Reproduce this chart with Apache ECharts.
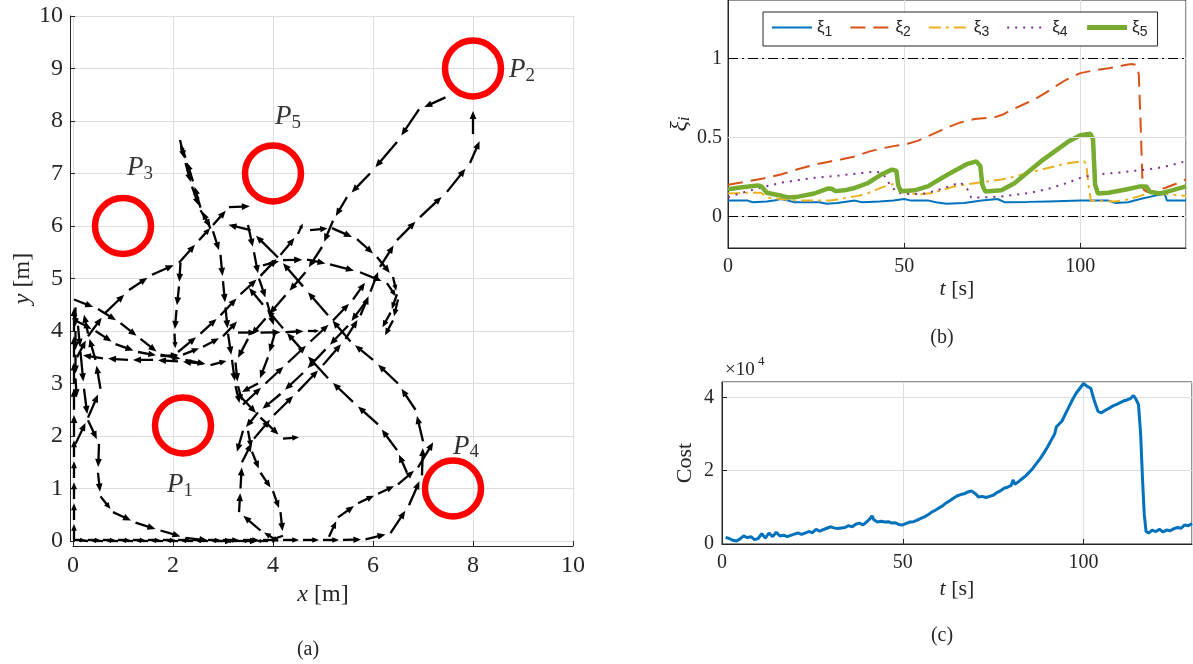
<!DOCTYPE html>
<html>
<head>
<meta charset="utf-8">
<script src="https://cdn.jsdelivr.net/npm/echarts@6/dist/echarts.min.js"></script>
<style>
  html, body { margin: 0; padding: 0; background: #fff; }
  #main { width: 1193px; height: 664px; }
</style>
</head>
<body>
<div id="main"></div>
<script>
// ---- panel (a): robot tracks, waypoints in metres ----
const trackBottomOut = [[0,0.02],[0.3,0.02],[0.6,0.02],[0.9,0.02],[1.2,0.02],[1.5,0.02],[1.8,0.02],[2.1,0.02],[2.4,0.02],[2.7,0.02],[3.0,0.02],[3.4,0.02],[3.8,0.02],[4.2,0.02],[4.6,0.02],[5.0,0.02],[5.4,0.02],[5.85,0.03],[6.35,0.15],[6.72,0.68],[6.98,1.25],[7.0,1.9],[6.85,2.5],[6.5,3.0],[6.0,3.45],[5.55,3.8],[5.1,4.3],[4.6,4.85],[4.1,5.4],[3.55,5.92],[3.0,6.05]];
const trackBottomBack = [[3.5,2.1],[3.58,1.7],[3.75,1.3],[4.0,0.95],[4.15,0.55],[4.2,0.1],[3.9,0.0],[3.6,0.0],[3.3,0.0],[3.0,0.0],[2.7,0.0],[2.4,0.0],[2.1,0.0],[1.8,0.0],[1.5,0.0],[1.2,0.0],[0.9,0.0],[0.6,0.0],[0.3,0.0],[0.02,0.02],[0.02,0.4],[0.02,0.8],[0.02,1.2],[0.02,1.6],[0.02,2.0],[0.02,2.5],[0.02,3.0],[0.02,3.5],[0.02,4.0],[0.02,4.55]];
const trackWallDown = [[0.05,4.45],[0.05,4.0],[0.05,3.55],[0.05,3.1],[0.08,2.65]];
const trackCrossUp = [[0.05,1.85],[0.3,2.35],[0.55,2.9],[0.45,3.45],[0.3,3.95],[0.2,4.4]];
const trackCurveDown = [[0.1,4.1],[0.15,3.6],[0.22,2.9],[0.3,2.3],[0.52,1.85],[0.5,1.3],[0.55,0.85],[0.8,0.55],[1.25,0.35],[1.75,0.2],[2.25,0.06],[2.8,0.0],[3.3,0.0],[3.8,0.0]];
const trackHammock1 = [[0.02,4.6],[0.5,4.42],[0.95,4.15],[1.35,3.85],[1.75,3.55],[2.25,3.45],[2.75,3.35],[3.15,3.45]];
const trackHammock2 = [[0.05,4.2],[0.45,4.0],[0.85,3.75],[1.3,3.6],[1.75,3.52],[2.2,3.55],[2.6,3.7],[3.0,3.9],[3.35,4.25]];
const trackHammock3 = [[2.6,3.38],[2.1,3.42],[1.6,3.45],[1.1,3.45],[0.6,3.48],[0.1,3.55]];
const trackToP3 = [[0.08,3.5],[0.3,3.9],[0.64,4.34],[1.12,4.78],[1.58,5.07],[2.12,5.3],[2.52,5.73],[2.8,6.02],[3.12,6.36],[3.64,6.38]];
const trackTopDown = [[2.14,7.64],[2.25,7.2],[2.38,6.75],[2.55,6.3],[2.8,5.9],[2.95,5.45],[3.0,4.95],[3.05,4.45],[3.1,3.95],[3.18,3.45],[3.25,2.95],[3.35,2.55]];
const trackTopUp = [[2.75,5.95],[2.55,6.35],[2.4,6.85],[2.25,7.3],[2.12,7.62]];
const trackMidDown = [[2.15,5.3],[2.12,4.85],[2.07,4.4],[2.03,3.95],[2.05,3.6]];
const trackMidUp = [[2.1,3.6],[2.55,3.95],[2.95,4.3],[3.35,4.7],[3.75,5.05],[4.15,5.45],[4.5,5.85],[4.62,6.1]];
const trackArcHigh = [[4.74,5.92],[5.18,5.96],[5.68,5.75],[6.08,5.41],[6.4,5.03],[6.48,4.7],[6.35,4.35],[6.15,4.0]];
const trackArcLow = [[3.8,5.25],[4.2,5.35],[4.68,5.36],[5.14,5.27],[5.74,5.12],[6.28,4.91],[6.5,4.6],[6.4,4.2],[6.2,3.85]];
const trackToP2 = [[4.1,0.0],[3.75,0.2],[3.32,0.55],[3.35,1.0],[3.38,1.5],[3.62,1.95],[4.02,2.4],[4.5,2.85],[5.0,3.35],[5.45,3.85],[5.75,4.3],[5.95,4.75],[6.14,5.22],[6.48,5.73],[6.94,6.17],[7.48,6.65],[7.94,7.2],[8.18,7.72]];
const trackP2Enter = [[8.0,7.75],[8.0,8.3]];
const trackFromP2 = [[7.45,8.45],[6.92,8.22],[6.48,7.6],[5.94,7.0],[5.48,6.55],[5.2,6.1],[4.98,5.6],[4.65,5.12],[4.25,4.68],[3.85,4.24],[3.5,3.85],[3.25,3.4],[3.3,2.95],[3.4,2.6]];
const trackDiagUp = [[6.68,1.3],[6.48,1.73],[6.1,2.22],[5.6,2.65],[5.1,3.1],[4.6,3.62],[4.2,4.05],[3.8,4.5],[3.45,4.9]];
const trackLineY4 = [[3.3,3.97],[3.75,3.97],[4.25,3.98],[4.7,4.0],[4.98,4.0]];
const trackHook = [[3.5,6.02],[3.62,5.5],[3.72,5.0],[3.88,4.55],[4.05,4.0],[3.9,3.5],[3.7,3.0],[3.3,2.8],[3.75,2.35],[4.2,1.95],[4.6,1.98]];
const trackToP4 = [[5.12,0.08],[5.3,0.45],[5.7,0.72],[6.1,0.9],[6.5,1.08],[6.9,1.4],[7.28,2.0]];
const trackParallel1 = [[5.85,4.55],[5.5,4.1],[5.05,3.65],[4.6,3.2],[4.15,2.8],[3.7,2.45],[3.4,2.1],[3.25,1.6]];
const trackParallel2 = [[3.4,2.6],[3.85,3.0],[4.3,3.4],[4.75,3.8],[5.2,4.2],[5.6,4.6],[5.9,5.0]];

const tracks = [trackBottomOut, trackBottomBack, trackWallDown, trackCrossUp, trackCurveDown,
  trackHammock1, trackHammock2, trackHammock3, trackToP3, trackTopDown, trackTopUp, trackMidDown,
  trackMidUp, trackArcHigh, trackArcLow, trackToP2, trackP2Enter, trackFromP2, trackDiagUp,
  trackLineY4, trackHook, trackToP4, trackParallel1, trackParallel2];

const siteNums = ['1', '2', '3', '4', '5'];
const siteCenters = [[2.2,2.2],[8.0,9.0],[1.0,6.0],[7.6,1.0],[4.0,7.0]];
const siteLabelPos = [[2.14,1.07],[8.98,8.97],[1.34,7.1],[7.86,1.8],[4.3,8.08]];

// ---- panel (b): xi_i over time [t (s), value] ----
const xi1 = [[0,0.1],[2,0.1],[5.6,0.1],[7,0.09],[11,0.095],[13,0.1],[15,0.11],[17,0.1],[19,0.09],[26,0.09],[28,0.08],[31,0.085],[34,0.095],[36,0.1],[38,0.09],[43,0.095],[47,0.1],[50,0.11],[52,0.1],[57,0.1],[59,0.09],[62,0.08],[67,0.085],[72,0.1],[76.5,0.11],[78.5,0.09],[85,0.092],[91,0.095],[100,0.1],[105,0.1],[108,0.1],[110,0.085],[113.5,0.09],[117,0.11],[121,0.13],[123,0.14],[124,0.14],[124.6,0.1],[130,0.1]];
const xi2 = [[0,0.2],[5,0.22],[10,0.24],[15,0.265],[20,0.3],[25,0.33],[29,0.348],[32,0.36],[36,0.38],[40,0.41],[43.5,0.43],[47,0.445],[51,0.46],[54,0.48],[57,0.51],[60,0.54],[62.5,0.565],[66,0.595],[70,0.617],[75.6,0.627],[78,0.645],[81,0.68],[84,0.71],[87,0.74],[90,0.78],[93,0.824],[96,0.865],[100,0.907],[104,0.925],[108,0.938],[112,0.955],[114.5,0.965],[115.9,0.96],[116.6,0.9],[117.1,0.6],[117.6,0.25],[118,0.17],[119,0.155],[121,0.16],[124,0.18],[127,0.205],[130,0.235]];
const xi3 = [[0,0.145],[5,0.15],[9.4,0.15],[11,0.12],[15,0.11],[20,0.1],[25,0.1],[29,0.1],[32,0.11],[34,0.12],[37,0.13],[39.6,0.146],[43.5,0.182],[46,0.2],[47.2,0.207],[48.5,0.19],[49.5,0.17],[51,0.146],[54.8,0.14],[58,0.148],[60.5,0.165],[64.3,0.19],[70,0.21],[77.6,0.234],[81,0.25],[85,0.275],[90.8,0.306],[96.5,0.337],[101,0.35],[101.7,0.33],[102.3,0.2],[103,0.1],[106,0.097],[109.8,0.095],[113,0.105],[117,0.13],[121,0.16],[124.8,0.14],[127,0.135],[130,0.13]];
const xi4 = [[0,0.12],[4,0.15],[9,0.18],[15,0.213],[20,0.23],[24.5,0.244],[30,0.255],[34,0.265],[38,0.275],[42,0.285],[44,0.27],[46,0.2],[48,0.15],[52,0.14],[56,0.145],[60,0.17],[64,0.2],[66,0.215],[68,0.17],[69,0.12],[72,0.12],[77,0.125],[81,0.135],[86,0.15],[91,0.175],[96,0.21],[100,0.244],[104,0.265],[110,0.275],[116,0.29],[122,0.306],[126,0.325],[130,0.35]];
const xi5 = [[0,0.172],[4,0.185],[8.5,0.196],[9.5,0.19],[11,0.15],[13,0.14],[15,0.132],[17,0.12],[20,0.125],[24.5,0.145],[28.3,0.176],[29.5,0.175],[30.5,0.16],[33,0.165],[36,0.18],[39.6,0.21],[43.5,0.265],[46.5,0.296],[47.8,0.29],[48.3,0.2],[49,0.16],[53,0.165],[56.7,0.19],[62.4,0.265],[68,0.333],[70.5,0.348],[71.6,0.32],[72.2,0.2],[73,0.158],[77.6,0.165],[81.3,0.21],[88.8,0.348],[96.5,0.472],[100,0.514],[102.8,0.524],[103.6,0.49],[104.2,0.2],[105,0.145],[108,0.15],[113,0.17],[117,0.19],[118.7,0.19],[119.8,0.155],[122.7,0.145],[126,0.165],[130,0.19]];
const xiNames = ['ξ1', 'ξ2', 'ξ3', 'ξ4', 'ξ5'];
const refLevels = [0, 1];
const xiGridLevels = [0.5];

// ---- panel (c): cost over time [t (s), cost / 1e4] ----
const costE4 = [[1,0.18],[2,0.15],[3,0.1],[4,0.08],[5,0.14],[6,0.22],[7,0.17],[8,0.2],[9,0.12],[10,0.15],[11,0.28],[12,0.16],[13,0.3],[14,0.2],[15,0.32],[16,0.22],[17,0.24],[18,0.2],[20,0.27],[21,0.3],[22,0.26],[24,0.34],[25,0.31],[26,0.4],[27,0.35],[29,0.43],[30,0.47],[31,0.44],[32,0.42],[34,0.45],[35,0.5],[36,0.47],[37,0.54],[38,0.57],[39,0.52],[40,0.6],[41,0.7],[41.5,0.77],[42,0.66],[43,0.6],[44,0.62],[45,0.6],[46,0.61],[47,0.57],[48,0.58],[49,0.53],[50,0.52],[51,0.56],[52,0.6],[53,0.61],[54,0.65],[55,0.7],[56,0.74],[57,0.8],[58,0.87],[59,0.92],[60,0.98],[61,1.04],[62,1.12],[63,1.18],[64,1.25],[65,1.31],[66,1.35],[67,1.37],[68,1.42],[69,1.45],[70,1.38],[71,1.28],[72,1.3],[73,1.27],[74,1.3],[75,1.33],[76,1.4],[77,1.45],[78,1.52],[79,1.55],[80,1.6],[80.5,1.75],[81,1.63],[82,1.7],[83,1.78],[84,1.86],[85,1.96],[86,2.07],[87,2.2],[88,2.33],[89,2.48],[90,2.64],[91,2.82],[92,3.0],[92.5,3.2],[93,3.15],[94,3.35],[95,3.55],[96,3.75],[97,3.95],[98,4.12],[99,4.25],[100,4.38],[101,4.3],[102,4.25],[103,3.9],[104,3.62],[105,3.58],[106,3.65],[107,3.7],[108,3.76],[109,3.8],[110,3.85],[111,3.9],[112,3.93],[113,3.97],[113.8,4.05],[114.5,3.95],[115.2,3.8],[115.8,3.0],[116.3,1.8],[116.8,0.8],[117.3,0.34],[118,0.3],[119,0.38],[120,0.34],[121,0.4],[122,0.33],[123,0.38],[124,0.36],[125,0.42],[126,0.45],[127,0.43],[128,0.52],[129,0.5],[130,0.56]];

// build quiver segments: each waypoint points at the next one
const segments = [];
tracks.forEach(tr => {
  for (let i = 0; i < tr.length - 1; i++) {
    segments.push([tr[i][0], tr[i][1], tr[i + 1][0], tr[i + 1][1]]);
  }
});

const SERIF = 'Liberation Serif';
const INK = '#262626';
const GRIDC = '#dedede';

function renderArrow(params, api) {
  const a = api.coord([api.value(0), api.value(1)]);
  const b = api.coord([api.value(2), api.value(3)]);
  const dx = b[0] - a[0], dy = b[1] - a[1];
  const L = Math.sqrt(dx * dx + dy * dy);
  if (L < 0.5) return;
  const ux = dx / L, uy = dy / L;
  const len = L * 0.8;
  const tip = [a[0] + ux * len, a[1] + uy * len];
  const h = Math.min(8, len * 0.42);
  const w = h * 0.42;
  const base = [tip[0] - ux * h, tip[1] - uy * h];
  return {
    type: 'group',
    children: [
      { type: 'line', shape: { x1: a[0], y1: a[1], x2: base[0] + ux, y2: base[1] + uy },
        style: { stroke: '#000', lineWidth: 2.3 } },
      { type: 'polygon', shape: { points: [tip, [base[0] - uy * w, base[1] + ux * w], [base[0] + uy * w, base[1] - ux * w]] },
        style: { fill: '#000' } }
    ]
  };
}

const tickLabel = (size) => ({ color: INK, fontFamily: SERIF, fontSize: size });
const nameStyle = (size) => ({
  color: INK, fontFamily: SERIF, fontSize: size,
  rich: {
    i: { fontStyle: 'italic', fontFamily: SERIF, fontSize: size, color: INK },
    s: { fontStyle: 'italic', fontFamily: SERIF, fontSize: size * 0.7, color: INK, verticalAlign: 'bottom', padding: [10, 0, 0, 0] }
  }
});
const axisLineStyle = { onZero: false, lineStyle: { color: INK } };

const chart = echarts.init(document.getElementById('main'));
chart.setOption({
  animation: false,
  backgroundColor: '#fff',
  grid: [
    { left: 73, top: 16, width: 500, height: 525 },
    { left: 728, top: -3, width: 458, height: 251, show: true, borderColor: INK, borderWidth: 1 },
    { left: 722, top: 382, width: 470, height: 162, show: true, borderColor: INK, borderWidth: 1 }
  ],
  xAxis: [
    { gridIndex: 0, type: 'value', min: 0, max: 10, interval: 2, offset: 5,
      axisLine: axisLineStyle,
      axisTick: { inside: true, length: 5, lineStyle: { color: INK } },
      axisLabel: Object.assign({ margin: 8 }, tickLabel(24)),
      splitLine: { lineStyle: { color: GRIDC } },
      name: '{i|x} [m]', nameLocation: 'middle', nameGap: 36, nameTextStyle: nameStyle(24) },
    { gridIndex: 1, type: 'value', min: 0, max: 130, interval: 50,
      axisLine: axisLineStyle,
      axisTick: { inside: true, length: 5, lineStyle: { color: INK } },
      axisLabel: Object.assign({ margin: 9, showMaxLabel: false }, tickLabel(20)),
      splitLine: { lineStyle: { color: GRIDC } },
      name: '{i|t} [s]', nameLocation: 'middle', nameGap: 30, nameTextStyle: nameStyle(22) },
    { gridIndex: 2, type: 'value', min: 0, max: 130, interval: 50,
      axisLine: axisLineStyle,
      axisTick: { inside: true, length: 5, lineStyle: { color: INK } },
      axisLabel: Object.assign({ margin: 9, showMaxLabel: false }, tickLabel(20)),
      splitLine: { lineStyle: { color: GRIDC } },
      name: '{i|t} [s]', nameLocation: 'middle', nameGap: 34, nameTextStyle: nameStyle(22) }
  ],
  yAxis: [
    { gridIndex: 0, type: 'value', min: 0, max: 10, interval: 1, offset: 3,
      axisLine: axisLineStyle,
      axisTick: { inside: true, length: 5, lineStyle: { color: INK } },
      axisLabel: Object.assign({ margin: 7 }, tickLabel(24)),
      splitLine: { lineStyle: { color: GRIDC } },
      name: '{i|y} [m]', nameLocation: 'middle', nameGap: 32, nameTextStyle: nameStyle(24) },
    { gridIndex: 1, type: 'value', min: -0.2, max: 1.37,
      axisLine: axisLineStyle,
      axisTick: { inside: true, length: 5, customValues: [0, 0.5, 1], lineStyle: { color: INK } },
      axisLabel: Object.assign({ margin: 6, customValues: [0, 0.5, 1] }, tickLabel(20)),
      splitLine: { lineStyle: { color: GRIDC } },
      name: '{i|ξ}{s|i}', nameLocation: 'middle', nameGap: 34, nameTextStyle: nameStyle(24) },
    { gridIndex: 2, type: 'value', min: 0, max: 4.42, interval: 2,
      axisLine: axisLineStyle,
      axisTick: { inside: true, length: 5, lineStyle: { color: INK } },
      axisLabel: Object.assign({ margin: 8, showMaxLabel: false }, tickLabel(20)),
      splitLine: { lineStyle: { color: GRIDC } },
      name: 'Cost', nameLocation: 'middle', nameGap: 26, nameTextStyle: nameStyle(22) }
  ],
  legend: {
    data: xiNames.map(n => n === 'ξ5' ? { name: n, lineStyle: { width: 5 } } : { name: n }),
    left: 763, top: 12,
    itemWidth: 40, itemHeight: 14, itemGap: 17,
    padding: [7, 10, 7, 8],
    borderColor: INK, borderWidth: 1, backgroundColor: '#fff',
    itemStyle: { opacity: 0 },
    formatter: name => '{x|ξ}{s|' + name.slice(1) + '}',
    textStyle: {
      rich: {
        x: { fontFamily: 'Liberation Sans', fontSize: 17, color: INK },
        s: { fontFamily: 'Liberation Sans', fontSize: 14, color: INK, verticalAlign: 'bottom', padding: [9, 0, 0, 0] }
      }
    }
  },
  graphic: [
    { type: 'text', x: 308, y: 650, style: { text: '(a)', font: '20px "Liberation Serif"', fill: INK, textAlign: 'center', textVerticalAlign: 'middle' } },
    { type: 'text', x: 942, y: 338, style: { text: '(b)', font: '20px "Liberation Serif"', fill: INK, textAlign: 'center', textVerticalAlign: 'middle' } },
    { type: 'text', x: 942, y: 636, style: { text: '(c)', font: '20px "Liberation Serif"', fill: INK, textAlign: 'center', textVerticalAlign: 'middle' } },
    { type: 'text', x: 725, y: 370, style: { text: '×10', font: '19px "Liberation Serif"', fill: INK, textAlign: 'left', textVerticalAlign: 'middle' } },
    { type: 'text', x: 758, y: 362, style: { text: '4', font: '13px "Liberation Serif"', fill: INK, textAlign: 'left', textVerticalAlign: 'middle' } }
  ],
  series: [
    { name: 'tracks', type: 'custom', xAxisIndex: 0, yAxisIndex: 0, data: segments,
      encode: { x: [0, 2], y: [1, 3] }, renderItem: renderArrow, clip: false, z: 3 },
    { name: 'sites', type: 'scatter', xAxisIndex: 0, yAxisIndex: 0, data: siteCenters,
      symbol: 'circle', symbolSize: 56,
      itemStyle: { color: 'rgba(0,0,0,0)', borderColor: '#ff0000', borderWidth: 6.5, opacity: 1 }, z: 4 },
    { name: 'siteLabels', type: 'scatter', xAxisIndex: 0, yAxisIndex: 0,
      data: siteLabelPos,
      symbolSize: 0,
      label: {
        show: true, position: 'inside',
        formatter: p => '{p|P}{s|' + siteNums[p.dataIndex] + '}',
        rich: {
          p: { fontFamily: SERIF, fontStyle: 'italic', fontSize: 27, color: '#000' },
          s: { fontFamily: SERIF, fontSize: 19, color: '#000', verticalAlign: 'bottom', padding: [12, 0, 0, 0] }
        }
      }, z: 5 },
    { name: 'ξ1', type: 'line', xAxisIndex: 1, yAxisIndex: 1, data: xi1, showSymbol: false, symbol: 'none',
      lineStyle: { color: '#0072BD', width: 2 }, itemStyle: { color: '#0072BD' },
      markLine: { silent: true, symbol: ['none', 'none'], label: { show: false },
        lineStyle: { color: '#000', width: 1.2, type: [10, 4, 2, 4] },
        data: refLevels.map(v => ({ yAxis: v })).concat(
          xiGridLevels.map(v => ({ yAxis: v, lineStyle: { color: GRIDC, width: 1, type: 'solid' } }))) } },
    { name: 'ξ2', type: 'line', xAxisIndex: 1, yAxisIndex: 1, data: xi2, showSymbol: false, symbol: 'none',
      lineStyle: { color: '#D95319', width: 2, type: [15, 8] }, itemStyle: { color: '#D95319' } },
    { name: 'ξ3', type: 'line', xAxisIndex: 1, yAxisIndex: 1, data: xi3, showSymbol: false, symbol: 'none',
      lineStyle: { color: '#EDB120', width: 2, type: [12, 5, 3, 5] }, itemStyle: { color: '#EDB120' } },
    { name: 'ξ4', type: 'line', xAxisIndex: 1, yAxisIndex: 1, data: xi4, showSymbol: false, symbol: 'none',
      lineStyle: { color: '#7E2F8E', width: 2, type: [2, 6] }, itemStyle: { color: '#7E2F8E' } },
    { name: 'ξ5', type: 'line', xAxisIndex: 1, yAxisIndex: 1, data: xi5, showSymbol: false, symbol: 'none',
      lineStyle: { color: '#77AC30', width: 4.5 }, itemStyle: { color: '#77AC30' } },
    { name: 'cost', type: 'line', xAxisIndex: 2, yAxisIndex: 2, data: costE4, showSymbol: false, symbol: 'none',
      lineStyle: { color: '#0072BD', width: 3 } }
  ]
});
</script>
</body>
</html>
